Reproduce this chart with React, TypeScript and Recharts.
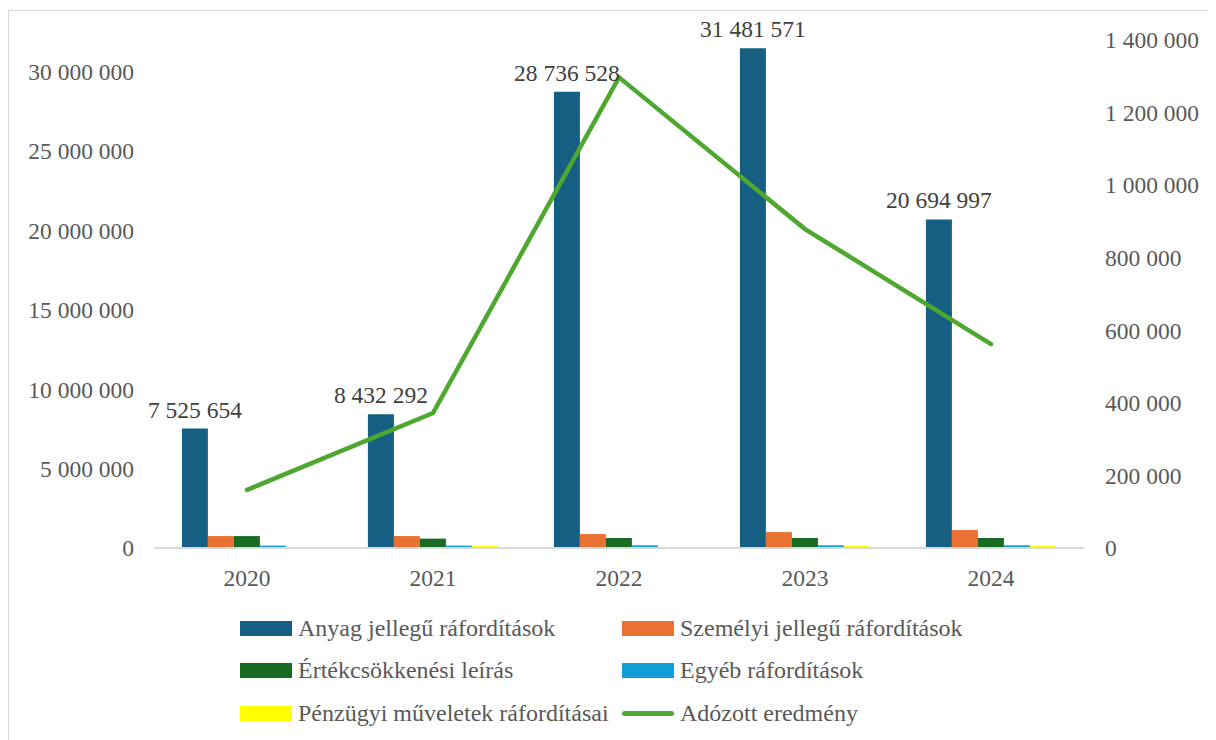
import React from 'react';
import { ComposedChart, Bar, Line, XAxis, YAxis, LabelList } from 'recharts';

const years = ['2020', '2021', '2022', '2023', '2024'];
const anyag = [7525654, 8432292, 28736528, 31481571, 20694997];
const szemelyi = [750000, 750000, 880000, 1000000, 1130000];
const ertekcsokkenes = [750000, 590000, 630000, 630000, 630000];
const egyeb = [150000, 150000, 170000, 170000, 170000];
const penzugyi = [0, 130000, 0, 140000, 140000];
const adozott = [160000, 372000, 1297000, 879000, 562000];

const leftTicks = [0, 5000000, 10000000, 15000000, 20000000, 25000000, 30000000];
const rightTicks = [0, 200000, 400000, 600000, 800000, 1000000, 1200000, 1400000];

const COLORS = {
  anyag: '#156082',
  szemelyi: '#E97132',
  ertek: '#196B24',
  egyeb: '#0F9ED5',
  penzugyi: '#FFFF00',
  adozott: '#4EA72E',
};

const legendItems = [
  { name: 'Anyag jellegű ráfordítások', color: COLORS.anyag, type: 'bar' },
  { name: 'Személyi jellegű ráfordítások', color: COLORS.szemelyi, type: 'bar' },
  { name: 'Értékcsökkenési leírás', color: COLORS.ertek, type: 'bar' },
  { name: 'Egyéb ráfordítások', color: COLORS.egyeb, type: 'bar' },
  { name: 'Pénzügyi műveletek ráfordításai', color: COLORS.penzugyi, type: 'bar' },
  { name: 'Adózott eredmény', color: COLORS.adozott, type: 'line' },
];

const fmt = (v: any) => String(v).replace(/\B(?=(\d{3})+(?!\d))/g, ' ');

const FONT = '"Liberation Serif", "Times New Roman", serif';
const FS = 23.5;

const BarValueLabel = (props: any) => {
  const { x, y, width, value } = props;
  return (
    <text
      x={x + width / 2}
      y={y - 11}
      textAnchor="middle"
      fontSize={FS}
      fontFamily={FONT}
      fill="#404040"
    >
      {fmt(value)}
    </text>
  );
};

export default function App() {
  const data = years.map((y, i) => ({
    year: y,
    anyag: anyag[i],
    szemelyi: szemelyi[i],
    ertek: ertekcsokkenes[i],
    egyeb: egyeb[i],
    penzugyi: penzugyi[i],
    adozott: adozott[i],
  }));

  const tickStyle = { fontSize: FS, fill: '#595959', fontFamily: FONT };

  return (
    <div
      style={{
        position: 'relative',
        marginTop: 2,
        width: 1220,
        height: 740,
        border: '1px solid #d9d9d9',
        boxSizing: 'border-box',
        fontFamily: FONT,
        background: '#fff',
      }}
    >
      <ComposedChart
        width={1200}
        height={720}
        data={data}
        margin={{ top: 29, right: 0, left: 0, bottom: 153 }}
        barCategoryGap="15%"
        barGap={0}
      >
        <XAxis
          dataKey="year"
          axisLine={{ stroke: '#d9d9d9', strokeWidth: 2 }}
          tickLine={false}
          tick={tickStyle}
          tickMargin={15}
        />
        <YAxis
          yAxisId="left"
          domain={[0, 32000000]}
          ticks={leftTicks}
          axisLine={false}
          tickLine={false}
          width={145}
          tick={tickStyle}
          tickMargin={14}
          tickFormatter={fmt}
        />
        <YAxis
          yAxisId="right"
          orientation="right"
          domain={[0, 1400000]}
          ticks={rightTicks}
          axisLine={false}
          tickLine={false}
          width={125}
          tick={{ ...tickStyle, textAnchor: 'start' }}
          tickMargin={15}
          tickFormatter={fmt}
        />
        <Bar yAxisId="left" dataKey="anyag" fill={COLORS.anyag} isAnimationActive={false}>
          <LabelList dataKey="anyag" content={BarValueLabel} />
        </Bar>
        <Bar yAxisId="left" dataKey="szemelyi" fill={COLORS.szemelyi} isAnimationActive={false} />
        <Bar yAxisId="left" dataKey="ertek" fill={COLORS.ertek} isAnimationActive={false} />
        <Bar yAxisId="left" dataKey="egyeb" fill={COLORS.egyeb} isAnimationActive={false} />
        <Bar yAxisId="left" dataKey="penzugyi" fill={COLORS.penzugyi} isAnimationActive={false} />
        <Line
          yAxisId="right"
          dataKey="adozott"
          stroke={COLORS.adozott}
          strokeWidth={4.5}
          strokeLinecap="round"
          dot={false}
          type="linear"
          isAnimationActive={false}
        />
      </ComposedChart>

      <div
        style={{
          position: 'absolute',
          left: 231,
          top: 596,
          display: 'grid',
          gridTemplateColumns: '382px 340px',
        }}
      >
        {legendItems.map((it) => (
          <div key={it.name} style={{ display: 'flex', alignItems: 'center', height: 42.5 }}>
            {it.type === 'bar' ? (
              <span style={{ display: 'inline-block', width: 52, height: 15, background: it.color, flex: 'none' }} />
            ) : (
              <span
                style={{
                  display: 'inline-block',
                  width: 52,
                  height: 5,
                  borderRadius: 3,
                  background: it.color,
                  flex: 'none',
                }}
              />
            )}
            <span style={{ marginLeft: 6, fontSize: 24, color: '#595959', whiteSpace: 'nowrap' }}>{it.name}</span>
          </div>
        ))}
      </div>
    </div>
  );
}
